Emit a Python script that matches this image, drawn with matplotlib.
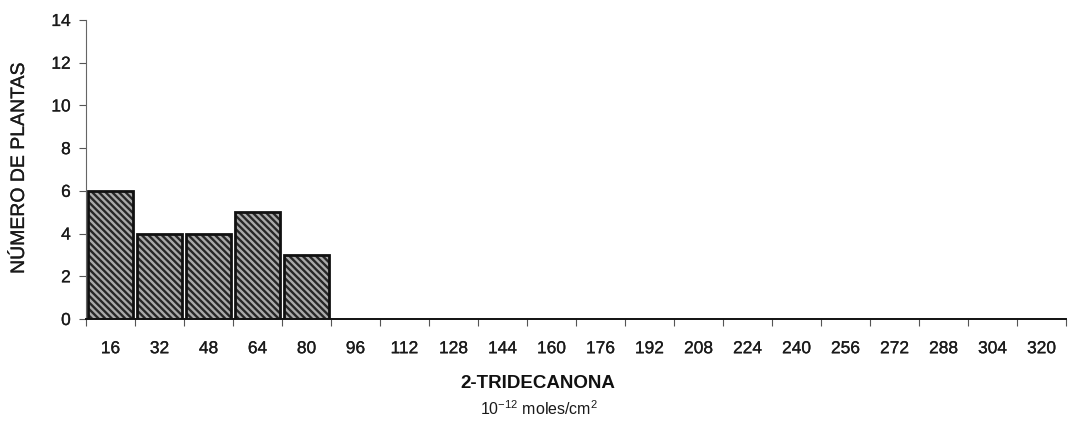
import matplotlib
matplotlib.use("Agg")
import matplotlib.pyplot as plt
import matplotlib.patheffects as pe

categories = ["16", "32", "48", "64", "80", "96", "112", "128", "144", "160",
              "176", "192", "208", "224", "240", "256", "272", "288", "304", "320"]
values = [6, 4, 4, 5, 3, 0, 0, 0, 0, 0, 0, 0, 0, 0, 0, 0, 0, 0, 0, 0]
yticks = [0, 2, 4, 6, 8, 10, 12, 14]

plt.rcParams['font.family'] = ['Liberation Sans', 'DejaVu Sans']
plt.rcParams['hatch.linewidth'] = 1.7

light_fx = [pe.withStroke(linewidth=0.2, foreground='#222222')]

fig = plt.figure(figsize=(10.68, 4.21), dpi=100)
ax = fig.add_axes([86/1068, 1-319/421, 980/1068, 299/421])

x = list(range(len(categories)))
nz = [i for i, v in enumerate(values) if v > 0]
ax.bar([x[i] for i in nz], [values[i] for i in nz], width=0.91,
       facecolor='#ababab', edgecolor='#262626', hatch='\\\\\\\\\\', linewidth=0)
ax.bar([x[i] for i in nz], [values[i] for i in nz], width=0.91,
       facecolor='none', edgecolor='#111111', linewidth=2.0)

ax.set_xlim(-0.5, len(categories) - 0.5)
ax.set_ylim(0, 14)
ax.set_yticks(yticks)
ax.set_xticks(x)
ax.set_xticklabels(categories)
ax.set_xticks([i - 0.5 for i in range(len(categories) + 1)], minor=True)
ax.tick_params(axis='x', which='major', length=0, pad=16, labelsize=12.5)
ax.tick_params(axis='x', which='minor', length=5, width=0.8, color='#555555')
ax.tick_params(axis='y', length=5, width=0.8, labelsize=12.5, color='#555555', pad=6)
for lab in ax.get_xticklabels() + ax.get_yticklabels():
    lab.set_color('#1a1a1a')
    lab.set_path_effects(light_fx)

for s in ['top', 'right']:
    ax.spines[s].set_visible(False)
ax.spines['left'].set_color('#666666')
ax.spines['left'].set_linewidth(0.8)
ax.spines['bottom'].set_color('#111111')
ax.spines['bottom'].set_linewidth(1.4)

yl = ax.set_ylabel("NÚMERO DE PLANTAS", fontsize=14, color='#1a1a1a')
yl.set_path_effects(light_fx)
ax.yaxis.set_label_coords((28 - 86) / 980, (319 - 168) / 299)
fig.text(538/1068, 1-383/421, "2-TRIDECANONA", fontsize=13.5, fontweight='bold',
         ha='center', va='center', color='#111111')
fig.text(539/1068, 1-409/421, r"10$^{\mathregular{-12}}$ moles/cm$^{\mathregular{2}}$",
         fontsize=11.5, ha='center', va='center', color='#1a1a1a')

fig.savefig("out.png", dpi=100)
